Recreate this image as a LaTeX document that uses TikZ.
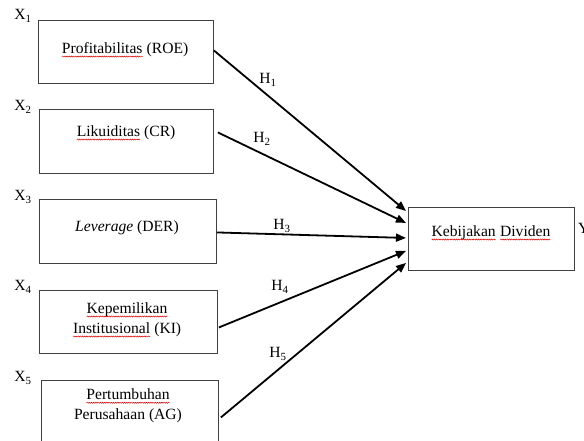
\documentclass[tikz,border=0pt]{standalone}
\usepackage{fontspec}
\setmainfont{Liberation Serif}
\usetikzlibrary{arrows.meta,decorations.pathmorphing}
\newcommand\sqw[1]{\tikz[baseline=(w.base)]{\node[inner sep=0pt,outer sep=0pt](w){#1};\draw[red!85!black,line width=0.5pt,decorate,decoration={snake,amplitude=0.55pt,segment length=2.2pt}] ([yshift=-3pt]w.base west) -- ([yshift=-3pt]w.base east);}}
\begin{document}
\begin{tikzpicture}[x=1pt,y=-1pt,
  box/.style={draw=black!75,line width=0.9pt,minimum width=175pt,minimum height=63pt,anchor=north west,inner sep=0pt},
  txt/.style={font=\fontsize{15.6}{20}\selectfont,inner sep=0pt,align=center},
  lab/.style={font=\fontsize{15.6}{20}\selectfont,inner sep=0pt},
  arr/.style={line width=1.8pt,-{Triangle[length=10pt,width=8pt]}}]
\useasboundingbox (0,0) rectangle (584,441);
% boxes
\node[box] (b1) at (38,20) {};
\node[box,minimum width=174pt,minimum height=64pt] (b2) at (39,109) {};
\node[box,minimum width=177pt,minimum height=64pt] (b3) at (39,199) {};
\node[box,minimum width=178pt] (b4) at (39,290) {};
\node[box,minimum width=177pt,minimum height=64pt] (b5) at (41,380) {};
\node[box,minimum width=166pt] (tgt) at (408,207) {};
% texts
\node[txt] (t1) at (125,50) {\sqw{Profitabilitas} (ROE)};
\node[txt] (t2) at (126,133) {\sqw{Likuiditas} (CR)};
\node[txt] (t3) at (127,228) {\textit{Leverage} (DER)};
\node[txt] (t4) at (127,320) {\sqw{Kepemilikan}\\\sqw{Institusional} (KI)};
\node[txt] (t5) at (128,406) {\sqw{Pertumbuhan}\\Perusahaan (AG)};
\node[txt] (tt) at (491,233) {\sqw{Kebijakan} \sqw{Dividen}};
% variable labels
\node[lab] (x1) at (23,16) {X\textsubscript{1}};
\node[lab] (x2) at (23,107) {X\textsubscript{2}};
\node[lab] (x3) at (23,197) {X\textsubscript{3}};
\node[lab] (x4) at (23,287) {X\textsubscript{4}};
\node[lab] (x5) at (23,378) {X\textsubscript{5}};
\node[lab,anchor=west] (y) at (578,228) {Y};
% arrows
\draw[arr] ([shift={(0,-1.5)}]b1.east) -- ([shift={(-2,-28)}]tgt.west);
\draw[arr] ([shift={(4,-9)}]b2.east) -- ([shift={(-2,-16)}]tgt.west);
\draw[arr] ([shift={(0,1)}]b3.east) -- ([shift={(-2,-1)}]tgt.west);
\draw[arr] ([shift={(1,5.5)}]b4.east) -- ([shift={(-2,12)}]tgt.west);
\draw[arr] ([shift={(2,5)}]b5.east) -- ([shift={(-2,24)}]tgt.west);
% hypothesis labels
\node[lab] (h1) at (268,80) {H\textsubscript{1}};
\node[lab] (h2) at (262,139) {H\textsubscript{2}};
\node[lab] (h3) at (282,226) {H\textsubscript{3}};
\node[lab] (h4) at (280,287) {H\textsubscript{4}};
\node[lab] (h5) at (278,354) {H\textsubscript{5}};
\end{tikzpicture}
\end{document}
